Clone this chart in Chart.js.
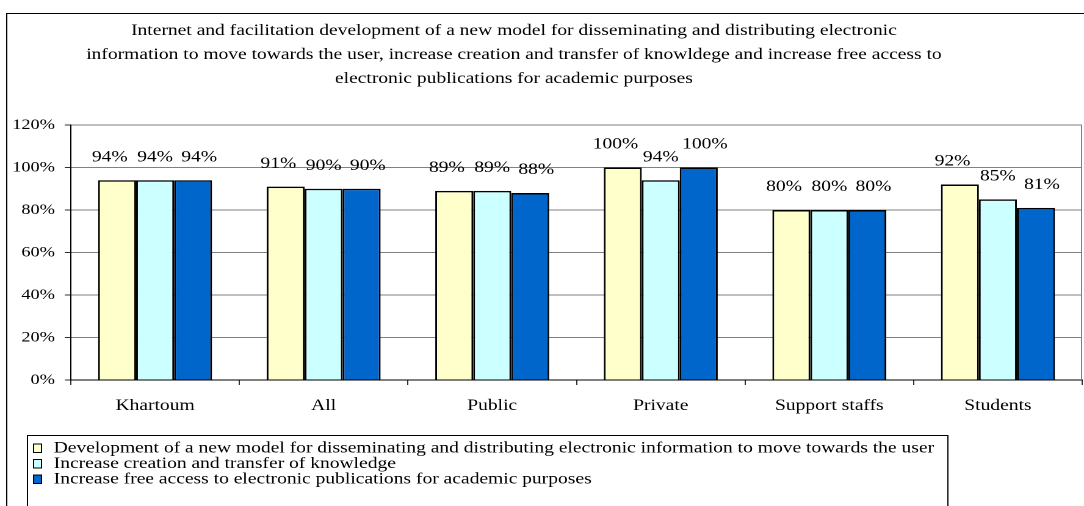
<!DOCTYPE html>
<html>
<head>
<meta charset="utf-8">
<title>Internet and facilitation development</title>
<script src="https://cdn.jsdelivr.net/npm/chart.js@4.4.1/dist/chart.umd.min.js"></script>
<style>
    body { margin: 0; background: #fff; }
    #chart1 { display: block; }
</style>
</head>
<body>
<!-- the source picture is stretched sideways, so the canvas is drawn narrow and widened by its inline style -->
<canvas id="chart1" width="888" height="506" style="width:1084px;height:506px"></canvas>
<script>
// chart data
var categories = ["Khartoum", "All", "Public", "Private", "Support staffs", "Students"];
var seriesNames = [
    "Development of a new model for disseminating and distributing electronic information to move towards the user",
    "Increase creation and transfer of knowledge",
    "Increase free access to electronic publications for academic purposes"
];
var newModel = [0.94, 0.91, 0.89, 1.00, 0.80, 0.92];
var knowledge = [0.94, 0.90, 0.89, 0.94, 0.80, 0.85];
var freeAccess = [0.94, 0.90, 0.88, 1.00, 0.80, 0.81];
var yTickLabels = ["0%", "20%", "40%", "60%", "80%", "100%", "120%"];
var titleLines = [
    "Internet and facilitation development of a new model for disseminating and distributing electronic",
    "information to move towards the user, increase creation and transfer of knowldege and increase free access to",
    "electronic publications for academic purposes"
];

var serif = "'Liberation Serif', 'Times New Roman', serif";
var barColors = ["#ffffcc", "#ccffff", "#0066cc"];
var labelShift = [-6, 0, 5]; // value labels sit a little apart, like the excel original

// frame, title, value labels and legend box
var framePlugin = {
    id: "frame",
    beforeDraw: function (chart) {
        var ctx = chart.ctx;
        ctx.save();
        ctx.fillStyle = "#fff";
        ctx.fillRect(0, 0, chart.width, chart.height);
        ctx.strokeStyle = "#000";
        ctx.lineWidth = 1;
        ctx.beginPath();
        ctx.moveTo(5.5, chart.height + 5);
        ctx.lineTo(5.5, 13.5);
        ctx.lineTo(chart.width + 5, 13.5);
        ctx.stroke();

        ctx.fillStyle = "#000";
        ctx.font = "16px " + serif;
        ctx.textAlign = "center";
        ctx.textBaseline = "middle";
        titleLines.forEach(function (line, i) {
            ctx.fillText(line, 421, 31 + i * 24);
        });
        ctx.restore();
    },
    afterDatasetsDraw: function (chart) {
        var ctx = chart.ctx;
        var area = chart.chartArea;
        ctx.save();
        // plot right edge
        ctx.strokeStyle = "#808080";
        ctx.lineWidth = 1;
        ctx.beginPath();
        ctx.moveTo(area.right - 0.5, area.top);
        ctx.lineTo(area.right - 0.5, area.bottom);
        ctx.stroke();

        ctx.fillStyle = "#000";
        ctx.font = "16px " + serif;
        ctx.textAlign = "center";
        ctx.textBaseline = "middle";
        chart.data.datasets.forEach(function (ds, i) {
            chart.getDatasetMeta(i).data.forEach(function (bar, j) {
                ctx.fillText(Math.round(ds.data[j] * 100) + "%", bar.x + labelShift[i], bar.y - 23);
            });
        });
        ctx.restore();
    },
    afterDraw: function (chart) {
        var ctx = chart.ctx;
        ctx.save();
        ctx.strokeStyle = "#000";
        ctx.lineWidth = 1;
        ctx.strokeRect(22.5, 435.5, 754, 90);
        ctx.font = "16px " + serif;
        ctx.textAlign = "left";
        ctx.textBaseline = "middle";
        chart.data.datasets.forEach(function (ds, i) {
            var y = 448 + i * 15.5;
            ctx.fillStyle = ds.backgroundColor;
            ctx.fillRect(27, y - 4.5, 7, 9);
            ctx.strokeRect(27.5, y - 4, 6.5, 8.5);
            ctx.fillStyle = "#000";
            ctx.fillText(ds.label, 44, y + 0.5);
        });
        ctx.restore();
    }
};

// bar chart start
new Chart("chart1", {
    type: "bar",
    data: {
        labels: categories,
        datasets: [
            { label: seriesNames[0], data: newModel, backgroundColor: barColors[0] },
            { label: seriesNames[1], data: knowledge, backgroundColor: barColors[1] },
            { label: seriesNames[2], data: freeAccess, backgroundColor: barColors[2] }
        ]
    },
    options: {
        responsive: false,
        devicePixelRatio: 2,
        animation: false,
        layout: { padding: { top: 125, right: 1.5, bottom: 0, left: 0 } },
        datasets: {
            bar: {
                borderColor: "#000",
                borderWidth: 1.5,
                borderSkipped: "bottom",
                categoryPercentage: 0.676,
                barPercentage: 1
            }
        },
        plugins: {
            legend: { display: false },
            title: { display: false },
            tooltip: { enabled: false }
        },
        scales: {
            x: {
                afterFit: function (scale) { scale.height = 126; },
                grid: { drawOnChartArea: false, drawTicks: true, tickLength: 5, tickColor: "#333" },
                border: { display: true, color: "#000", width: 1 },
                ticks: { color: "#000", padding: 11, font: { family: serif, size: 16 } }
            },
            y: {
                min: 0,
                max: 1.2,
                afterFit: function (scale) { scale.width = 58; },
                grid: { color: "#808080", tickLength: 5, tickColor: "#333" },
                border: { display: true, color: "#000", width: 1 },
                ticks: {
                    stepSize: 0.2,
                    color: "#000",
                    padding: 8,
                    font: { family: serif, size: 15 },
                    callback: function (v, i) { return yTickLabels[i]; }
                }
            }
        }
    },
    plugins: [framePlugin]
});
// bar chart end
</script>
</body>
</html>
